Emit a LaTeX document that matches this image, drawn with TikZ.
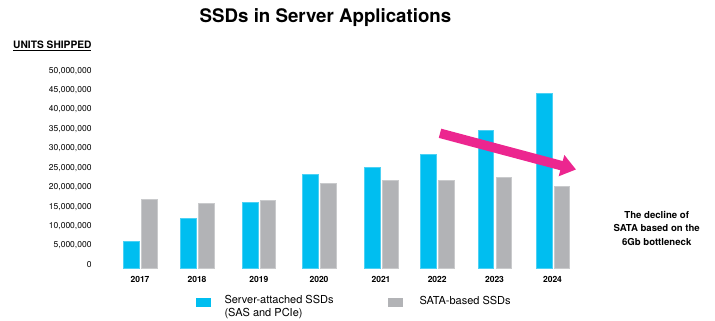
\documentclass[tikz,border=0pt]{standalone}
\usepackage{fontspec}
\setmainfont{TeX Gyre Heros}
\usetikzlibrary{arrows.meta}
\definecolor{ssdblue}{HTML}{00BEF0}
\definecolor{satagray}{HTML}{B2B3B6}
\definecolor{trendpink}{HTML}{EC268F}
\tikzset{
  bluebar/.style={fill=ssdblue,draw=ssdblue!70!white,line width=0.4pt},
  graybar/.style={fill=satagray,draw=satagray!70!white,line width=0.4pt},
  ticklabel/.style={anchor=east,inner sep=0pt,font=\fontsize{8.5}{10}\selectfont},
  yearlabel/.style={inner sep=0pt,font=\bfseries\fontsize{8.5}{10}\selectfont},
  legendtext/.style={anchor=west,inner sep=0pt,align=left,font=\fontsize{11}{13.3}\selectfont},
}
\begin{document}
\begin{tikzpicture}[x=1pt,y=-1pt]
\useasboundingbox (0,0) rectangle (715,321);
% title
\node[inner sep=0pt,font=\bfseries\fontsize{18.7}{22}\selectfont] (title) at (325.5,18) {SSDs in Server Applications};
% axis heading
\node[anchor=east,inner sep=0pt,font=\bfseries\fontsize{10.2}{12}\selectfont] (units) at (91.7,45.7) {\underline{UNITS SHIPPED}};
% tick labels
\foreach \i/\lab in {0/0,1/{5,000,000},2/{10,000,000},3/{15,000,000},4/{20,000,000},5/{25,000,000},6/{30,000,000},7/{35,000,000},8/{40,000,000},9/{45,000,000},10/{50,000,000}}{
  \node[ticklabel] (tick\i) at (91.7,{265-\i*19.43}) {\lab};
}
% bars
\foreach \a/\b/\t in {123.3/139/241,180.3/196/218,242.3/257.7/202,302.3/317.7/174,364.3/379.7/167.3,420.3/436/154,477.7/493.3/129.7,535.7/551.7/93.3}{
  \draw[bluebar] (\a,268) rectangle (\b,\t);
}
\foreach \a/\b/\t in {141.3/156.7/199.3,198.3/213.7/203,260.3/275.3/199.7,320.3/335.7/183.3,382/397.7/179.7,438.3/454/179.7,495.7/511.3/176.7,554/569.3/186.3}{
  \draw[graybar] (\a,268) rectangle (\b,\t);
}
% year labels
\foreach \x/\y in {140/2017,197/2018,258.8/2019,319/2020,381/2021,437.2/2022,494.5/2023,552.5/2024}{
  \node[yearlabel] (yr\y) at (\x,279) {\y};
}
% trend arrow
\coordinate (arrowtail) at (440,133.3);
\coordinate (arrowtip) at (576,169.5);
\draw[trendpink,line width=9.5pt,-{Triangle[length=15pt,width=21pt]}] (arrowtail) -- (arrowtip);
% annotation
\node[inner sep=0pt,align=center,font=\bfseries\fontsize{9.6}{13.3}\selectfont] (note) at (656.7,228.3) {The decline of\\SATA based on the\\6Gb bottleneck};
% legend
\fill[ssdblue] (195.7,298) rectangle (210.7,307);
\node[legendtext] (leg1) at (224.3,307.3) {Server-attached SSDs\\(SAS and PCIe)};
\fill[satagray] (387.7,298) rectangle (402.7,307);
\node[legendtext] (leg2) at (419.3,300.7) {SATA-based SSDs};
\end{tikzpicture}
\end{document}
